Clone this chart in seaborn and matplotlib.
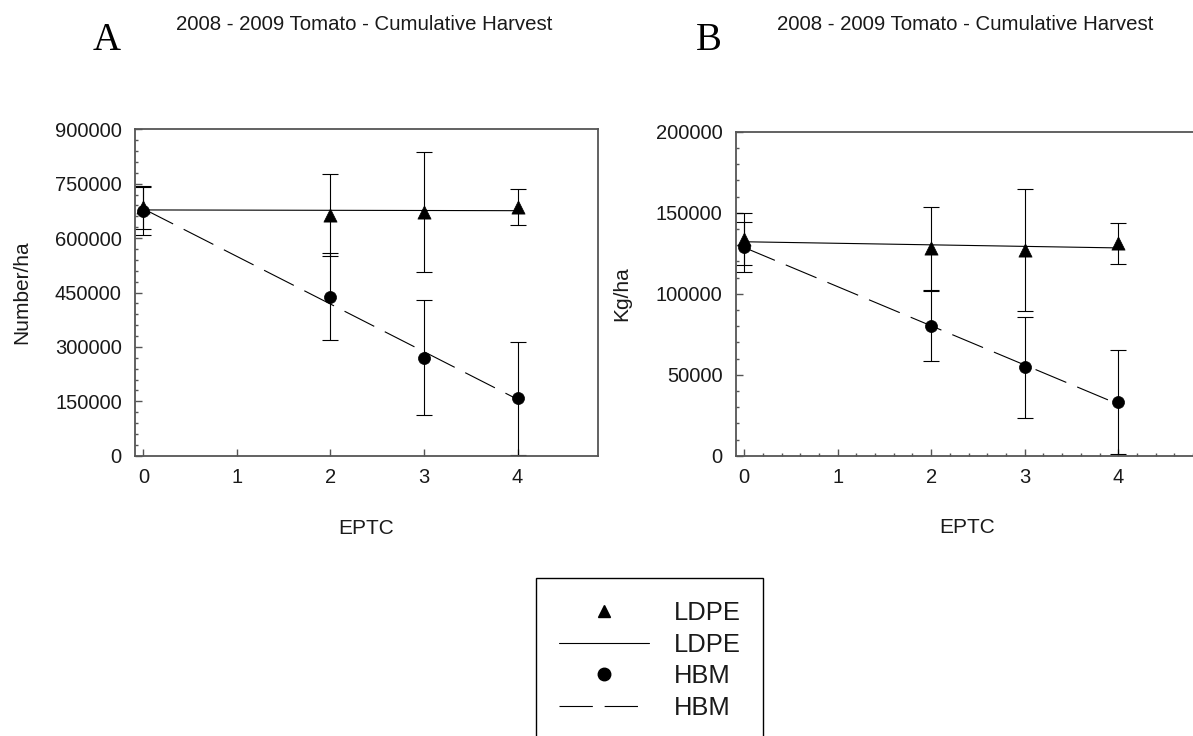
import matplotlib
matplotlib.use("Agg")
import matplotlib.pyplot as plt
from matplotlib.lines import Line2D
from matplotlib.ticker import MultipleLocator, StrMethodFormatter, NullLocator
import seaborn as sns

# EPTC rates (x) and cumulative harvest means with error half-widths
eptc = [0, 2, 3, 4]

ldpe_number = [685000, 664000, 672000, 685000]
ldpe_number_err = [60000, 113000, 165000, 50000]
hbm_number = [675000, 438000, 270000, 158000]
hbm_number_err = [66000, 120000, 158000, 155000]

ldpe_kg = [133700, 128000, 127000, 131000]
ldpe_kg_err = [16000, 25500, 37500, 12500]
hbm_kg = [129000, 80000, 54500, 33000]
hbm_kg_err = [15500, 21500, 31000, 32000]

panel_letters = ["A", "B"]
panel_title = "2008 - 2009 Tomato - Cumulative Harvest"
y_labels = ["Number/ha", "Kg/ha"]
x_label = "EPTC"
x_ticks = [0, 1, 2, 3, 4]
treatments = ["LDPE", "HBM"]

sns.set_style("ticks")
plt.rcParams["font.family"] = ["Liberation Sans", "DejaVu Sans"]
plt.rcParams["lines.scale_dashes"] = False

W, H = 1193, 736
fig = plt.figure(figsize=(W / 100, H / 100), dpi=100)

DASH = (24, 8.5)
TEXT = "#1a1a1a"
SPINE = "#555555"


def draw_panel(ax, ldpe, ldpe_err, hbm, hbm_err, ymax, ymajor, yminor, xminor, ylabel):
    # error bars first, then the fitted lines and the treatment means on top
    for vals, errs in ((ldpe, ldpe_err), (hbm, hbm_err)):
        ax.errorbar(eptc, vals, yerr=errs, fmt="none", ecolor="black",
                    elinewidth=0.8, capsize=5.8, capthick=0.8, zorder=2)
    sns.regplot(x=eptc, y=ldpe, scatter=False, ci=None, truncate=True,
                color="black", line_kws=dict(lw=0.8, zorder=3), ax=ax)
    sns.regplot(x=eptc, y=hbm, scatter=False, ci=None, truncate=True,
                color="black", line_kws=dict(lw=0.8, dashes=DASH, zorder=3), ax=ax)
    sns.scatterplot(x=eptc, y=ldpe, marker="^", s=90, color="black",
                    edgecolor="black", linewidth=0.5, zorder=4, ax=ax)
    sns.scatterplot(x=eptc, y=hbm, marker="o", s=75, color="black",
                    edgecolor="black", linewidth=0.5, zorder=4, ax=ax)

    ax.set_xlim(-0.09, 4.86)
    ax.set_ylim(0, ymax)
    ax.set_xticks(x_ticks)
    ax.yaxis.set_major_locator(MultipleLocator(ymajor))
    ax.yaxis.set_minor_locator(MultipleLocator(yminor))
    if xminor:
        ax.xaxis.set_minor_locator(MultipleLocator(xminor))
    else:
        ax.xaxis.set_minor_locator(NullLocator())
    ax.yaxis.set_major_formatter(StrMethodFormatter("{x:.0f}"))
    ax.tick_params(which="both", direction="in", color=SPINE, width=1.0,
                   top=False, right=False)
    ax.tick_params(which="major", length=5, labelsize=14.5, labelcolor=TEXT)
    ax.tick_params(axis="x", which="major", pad=9)
    ax.tick_params(axis="y", which="major", pad=9.5)
    ax.tick_params(which="minor", length=2.5)
    for sp in ax.spines.values():
        sp.set_visible(True)
        sp.set_color(SPINE)
        sp.set_linewidth(1.3)
    ax.set_xlabel(x_label, fontsize=15, color=TEXT)
    ax.set_ylabel(ylabel, fontsize=15, color=TEXT)
    ax.xaxis.set_label_coords(0.5, -0.193)
    ax.yaxis.set_label_coords(-0.225, 0.5)


axA = fig.add_axes([135 / W, 1 - 455.7 / H, 463 / W, (455.7 - 129.3) / H])
axB = fig.add_axes([735.7 / W, 1 - 455.7 / H, 463 / W, (455.7 - 131.7) / H])

draw_panel(axA, ldpe_number, ldpe_number_err, hbm_number, hbm_number_err,
           900000, 150000, 30000, None, y_labels[0])
draw_panel(axB, ldpe_kg, ldpe_kg_err, hbm_kg, hbm_kg_err,
           200000, 50000, 10000, 0.2, y_labels[1])

# panel letters and headings
for letter, lx, tx in zip(panel_letters, (107, 709), (364, 965)):
    fig.text(lx / W, 1 - 50 / H, letter, family=["Liberation Serif", "DejaVu Serif"],
             fontsize=28, ha="center", va="baseline", color="black")
    fig.text(tx / W, 1 - 30 / H, panel_title, fontsize=14.7, ha="center",
             va="baseline", color=TEXT)

# shared legend below the panels
handles = [
    Line2D([], [], ls="none", marker="^", markersize=9, color="black"),
    Line2D([], [], color="black", lw=0.8),
    Line2D([], [], ls="none", marker="o", markersize=9, color="black"),
    Line2D([], [], color="black", lw=0.8, dashes=DASH),
]
labels = [treatments[0], treatments[0], treatments[1], treatments[1]]
leg = fig.legend(handles, labels, loc="upper left",
                 bbox_to_anchor=(535.7 / W, 1 - 578 / H), borderaxespad=0,
                 frameon=True, fancybox=False, shadow=False, framealpha=1,
                 edgecolor="black", fontsize=18.4, handlelength=3.55,
                 handletextpad=0.94, borderpad=0.9, labelspacing=0.3)
leg.get_frame().set_linewidth(1.0)
for t in leg.get_texts():
    t.set_color(TEXT)

fig.savefig("out.png", dpi=100, facecolor="white")
